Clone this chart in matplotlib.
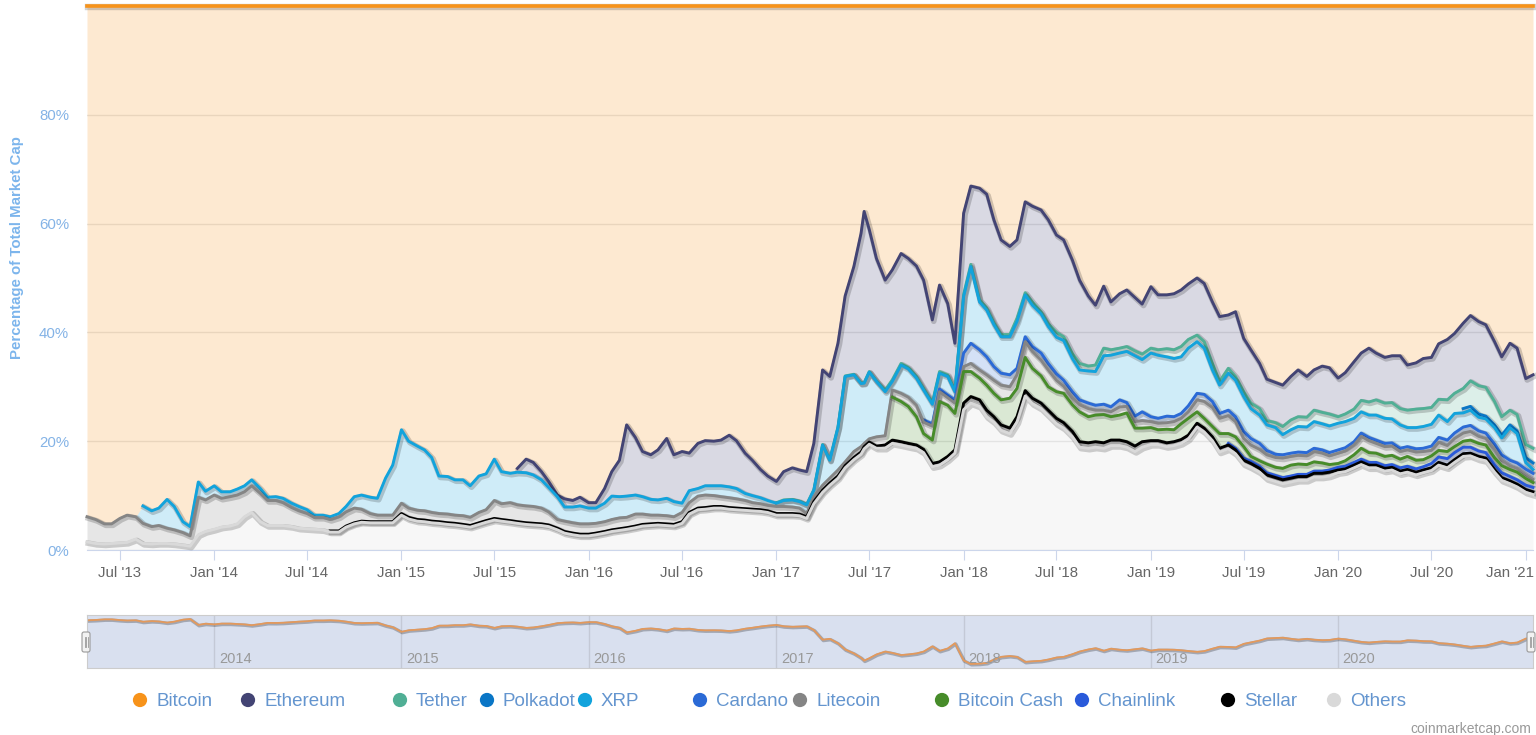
import numpy as np
import pandas as pd
import matplotlib
matplotlib.use("Agg")
import matplotlib.pyplot as plt
import matplotlib.dates as mdates
import matplotlib.patheffects as pe
from matplotlib.patches import FancyBboxPatch
from matplotlib.transforms import ScaledTranslation

plt.rcParams['font.family'] = ['Liberation Sans', 'DejaVu Sans']

# semi-monthly samples (% of total market cap)
dates = pd.DatetimeIndex(["2013-04-28"]).append(
    pd.date_range("2013-05-15", "2021-01-15", freq="SMS"))
dates = dates.insert(dates.get_loc(pd.Timestamp("2017-06-15")) + 1,
                     pd.Timestamp("2017-06-21"))

bitcoin = [
    93.9, 94.4, 95.2, 95.2, 94.2, 93.6, 93.9, 91.9, 92.8, 92.3, 90.7, 92.0, 94.8, 95.7, 87.5, 89.2,
    88.2, 89.3, 89.3, 88.8, 88.2, 87.1, 88.7, 90.3, 90.2, 90.5, 91.4, 92.0, 92.6, 93.6, 93.6, 93.9,
    93.3, 92.0, 90.2, 89.9, 90.3, 90.5, 86.8, 84.4,
    77.9, 80.0, 80.9, 81.6, 83.0, 86.4, 86.5, 87.1, 87.1, 88.2, 86.4, 86.0, 83.3, 85.6, 85.9, 85.0,
    83.3, 83.9, 85.6, 87.4, 89.9, 90.6, 90.9, 90.3,
    91.3, 91.3, 88.7, 85.6, 83.5, 77.0, 79.3, 81.9, 82.5, 81.6, 79.5, 82.5, 81.9, 82.2, 80.4, 79.9,
    80.0, 79.8, 78.9, 79.9, 82.2, 83.5, 85.2, 86.4,
    87.4, 85.6, 84.9, 85.3, 85.6, 80.4, 66.9, 68.1, 62.0, 53.3, 47.9, 41.8, 37.8, 41.2, 46.4, 50.4,
    48.5, 45.5, 46.4, 47.8, 50.4, 57.7, 51.3, 54.7, 62.0,
    38.1, 33.1, 33.5, 34.6, 39.3, 43.0, 44.2, 43.0, 36.0, 36.8, 37.5, 39.3, 42.1, 43.0, 46.7, 50.4,
    53.3, 55.0, 51.5, 54.4, 52.9, 52.2, 53.6, 54.8,
    51.6, 53.1, 53.1, 52.9, 52.2, 51.1, 50.0, 51.0, 54.4, 57.1, 56.8, 56.2, 61.1, 63.2, 65.7, 68.6,
    69.2, 69.7, 68.1, 66.9, 68.1, 66.9, 66.2, 66.5,
    68.4, 67.4, 65.4, 63.8, 62.9, 63.8, 64.6, 64.3, 64.3, 66.0, 65.6, 64.8, 64.6, 62.1, 61.3, 60.2,
    58.3, 56.9, 58.0, 58.6, 61.7, 64.5, 62.0, 62.9,
    67.8, 67.8]

ethereum = [0.0] * 16 + [0.0] * 24 + [0.0] * 15 + [
    0.7, 2.5, 2.3, 1.5, 1.1, 0.3, 1.5, 1.2, 1.6,
    1.0, 1.0, 2.7, 4.5, 6.7, 13.1, 10.6, 8.3, 8.2, 9.2, 11.0, 8.6, 9.5, 6.9, 8.3, 8.3,
    8.2, 8.4, 9.5, 8.8, 7.4, 6.5, 5.2, 4.5,
    3.9, 5.2, 5.8, 5.7, 6.0, 8.5, 13.7, 15.3, 15.4, 14.7, 19.8, 27.5, 31.5, 26.2, 22.5, 20.2,
    20.2, 20.2, 20.0, 20.3, 19.9, 15.2, 15.9, 13.1, 8.6,
    14.9, 14.4, 20.5, 20.9, 18.9, 17.4, 16.2, 14.4, 16.7, 17.6, 18.7, 19.1, 17.9, 17.8, 17.2, 15.3,
    12.9, 11.0, 11.4, 8.8, 10.0, 10.4, 9.8, 9.2,
    11.3, 10.1, 9.9, 10.3, 10.4, 10.2, 10.5, 10.7, 11.3, 11.9, 9.8, 11.9, 9.8, 9.8, 8.3, 7.6,
    7.4, 7.6, 8.0, 8.6, 7.5, 7.4, 8.5, 8.5,
    7.1, 7.6, 8.7, 8.7, 9.9, 8.6, 8.4, 8.6, 9.7, 8.3, 8.5, 9.2, 9.2, 10.2, 11.1, 11.0,
    12.0, 12.0, 11.8, 11.5, 11.0, 11.0, 12.3, 12.2,
    12.0, 13.5]

tether = [0.0] * 16 + [0.0] * 24 + [0.0] * 24 + [0.0] * 24 + [0.1] * 15 + [0.3] * 10 + [
    0.4, 0.4, 0.4, 0.4, 0.4, 0.4, 0.4, 0.6, 0.4, 0.6, 0.4, 0.5, 0.9, 0.7, 0.9, 1.2,
    0.9, 1.2, 1.4, 1.0, 0.9, 0.9, 0.9, 1.0,
    0.9, 1.0, 1.5, 1.6, 1.9, 1.6, 1.2, 1.2, 1.2, 0.7, 0.9, 0.7, 0.9, 1.0, 1.2, 0.8,
    0.9, 1.5, 1.8, 1.8, 1.8, 2.1, 2.1, 2.2,
    1.2, 1.4, 1.7, 2.1, 2.4, 2.8, 2.8, 3.0, 3.0, 3.2, 3.4, 3.3, 3.1, 2.9, 4.0, 3.7,
    3.7, 4.7, 5.2, 5.3, 4.3, 3.4, 2.7, 3.0,
    2.4, 2.7]

polkadot = [0.0] * 177 + [0.8, 0.7, 0.6, 0.5, 0.5, 0.5, 0.5, 0.5, 0.9, 1.2]

xrp = [0.0] * 7 + [
    3.2, 2.9, 3.2, 5.3, 4.3, 2.0, 1.7, 2.8, 1.6,
    1.7, 1.2, 0.9, 1.1, 1.1, 1.1, 0.9, 0.6, 0.7, 0.8, 0.8, 0.8, 0.7, 0.4, 0.4, 0.5,
    0.6, 1.0, 2.1, 2.6, 3.0, 3.1, 6.8, 9.2,
    13.5, 12.3, 11.8, 11.2, 10.1, 6.9, 6.9, 6.5, 6.6, 5.8, 6.7, 6.6, 7.6, 5.9, 5.4, 6.0,
    6.1, 5.8, 5.2, 4.5, 4.2, 2.6, 2.9, 3.3,
    2.9, 2.8, 3.4, 4.3, 3.9, 3.9, 3.5, 3.2, 2.9, 2.8, 3.2, 2.8, 1.7, 2.2, 1.4, 1.7,
    1.8, 2.0, 2.0, 1.9, 1.3, 1.3, 1.1, 0.9,
    0.6, 1.1, 1.3, 1.2, 1.6, 1.2, 7.4, 3.3, 7.8, 15.7, 14.1, 11.6, 11.1, 12.3, 10.2, 8.1,
    1.6, 5.2, 5.2, 5.0, 5.5, 3.6, 2.9, 3.4, 1.5,
    10.4, 14.1, 8.8, 8.6, 7.7, 6.7, 7.0, 8.6, 7.7, 7.6, 7.2, 6.8, 6.7, 7.3, 6.1, 5.5,
    5.9, 6.2, 8.9, 9.5, 8.6, 9.4, 11.1, 9.6,
    11.7, 11.6, 10.9, 10.7, 10.4, 10.6, 9.5, 8.5, 5.8, 5.2, 6.8, 6.7, 6.4, 5.5, 5.2, 4.7,
    4.9, 3.7, 4.3, 4.7, 4.7, 4.9, 4.8, 4.9,
    4.9, 4.8, 4.3, 3.9, 4.1, 4.6, 4.6, 4.4, 4.3, 3.5, 3.9, 4.0, 4.0, 4.1, 3.4, 3.6,
    2.6, 2.8, 2.5, 2.6, 3.0, 3.1, 6.0, 5.4,
    1.2, 0.7]

cardano = [0.0] * 16 + [0.0] * 24 + [0.0] * 24 + [0.0] * 24 + [0.0] * 20 + [
    0.4, 0.4, 0.5, 0.5, 0.6,
    2.5, 3.7, 3.7, 3.3, 2.5, 2.2, 2.2, 1.2, 0.9, 0.9, 1.3, 1.2, 1.2, 1.1, 1.1, 0.9,
    1.0, 0.9, 1.1, 0.9, 1.3, 0.7, 1.0, 1.6,
    0.9, 0.9, 1.2, 0.9, 0.9, 1.1, 1.2, 1.3, 1.1, 0.9, 1.0, 0.9, 1.3, 1.2, 1.1, 0.8,
    0.6, 0.6, 0.6, 0.6, 0.6, 0.6, 0.6, 0.6,
    0.6, 0.6, 0.6, 0.6, 0.6, 0.6, 0.6, 0.6, 0.6, 0.6, 0.6, 0.6, 0.8, 0.9, 1.0, 1.0,
    1.1, 1.1, 1.0, 1.0, 1.0, 1.0, 1.0, 1.0,
    1.0, 1.1]

litecoin = [
    4.6, 4.4, 3.7, 3.6, 4.5, 5.0, 4.1, 3.7, 3.2, 3.3, 2.8, 2.6, 2.3, 1.9, 6.9, 5.8,
    6.3, 5.3, 5.4, 5.3, 4.6, 4.9, 5.2, 4.6, 4.6, 4.2, 3.5, 3.2, 2.8, 2.2, 2.3, 2.1,
    2.6, 2.6, 2.7, 2.2, 1.5, 1.2, 1.2, 1.2,
    1.9, 1.7, 1.7, 1.7, 1.6, 1.5, 1.6, 1.5, 1.6, 1.5, 1.9, 2.0, 3.3, 2.9, 3.3, 3.1,
    3.1, 3.1, 2.9, 2.4, 1.6, 1.9, 1.9, 1.9,
    1.9, 1.8, 1.8, 1.9, 2.0, 1.9, 2.2, 1.9, 1.6, 1.5, 1.5, 1.4, 1.7, 1.8, 2.2, 2.3,
    2.0, 1.8, 1.8, 1.7, 1.5, 1.2, 1.1, 1.0,
    1.3, 1.3, 1.2, 1.1, 0.6, 0.9, 0.9, 0.9, 1.1, 0.7, 1.1, 1.0, 0.6, 0.6, 1.7, 1.7,
    1.3, 1.5, 1.7, 2.1, 2.1, 2.6, 1.8, 1.4, 1.9,
    0.9, 1.5, 1.5, 1.9, 2.4, 2.7, 2.1, 2.5, 2.9, 3.1, 2.9, 3.1, 2.1, 1.3, 1.3, 1.3,
    1.5, 0.9, 0.8, 0.9, 1.5, 1.2, 1.2, 1.4,
    1.1, 1.2, 1.2, 1.5, 1.0, 1.2, 2.2, 3.1, 3.5, 2.8, 3.3, 2.8, 1.5, 2.1, 2.1, 1.7,
    1.8, 1.9, 1.6, 1.6, 1.6, 1.9, 1.8, 1.6,
    1.9, 1.8, 1.8, 2.2, 2.2, 1.8, 1.8, 1.7, 1.4, 1.2, 1.5, 1.5, 1.0, 1.5, 1.1, 1.5,
    1.5, 1.6, 1.3, 1.2, 1.5, 1.0, 0.7, 0.7,
    0.7, 0.6]

bitcoin_cash = [0.0] * 16 + [0.0] * 24 + [0.0] * 24 + [0.0] * 24 + [0.0] * 16 + [
    7.9, 7.4, 6.8, 5.2, 2.9, 4.3, 11.1, 9.4, 6.7,
    5.8, 4.6, 4.0, 4.6, 4.3, 4.6, 5.5, 5.2, 6.1, 5.5, 5.0, 4.3, 4.9, 5.4, 4.9, 5.5,
    4.8, 4.9, 5.2, 4.3, 4.6, 5.3, 3.3, 2.5,
    2.4, 2.0, 2.5, 2.2, 2.9, 3.1, 2.1, 1.8, 1.9, 2.7, 1.8, 2.1, 2.1, 0.9, 1.0, 1.6,
    1.5, 1.7, 2.0, 1.9, 1.8, 1.7, 1.5, 1.0,
    0.7, 1.0, 1.4, 2.0, 1.8, 1.7, 1.7, 1.7, 1.6, 1.8, 1.6, 1.3, 1.4, 1.2, 1.3, 1.1,
    1.1, 1.3, 1.4, 1.4, 1.3, 1.3, 1.3, 1.4,
    1.2, 0.9]

chainlink = [0.0] * 16 + [0.0] * 24 + [0.0] * 24 + [0.0] * 24 + [0.0] * 25 + [0.0] * 24 + [
    0.0] * 10 + [0.3, 0.3] + [0.4] * 12 + [0.5] * 8 + [0.6] * 4 + [
    0.8, 1.0, 1.2, 1.3, 1.2, 1.1, 1.0, 1.0, 0.9, 0.9, 0.8, 0.8,
    0.8, 0.8]

stellar = [0.0] * 16 + [0.0] * 15 + [0.2] * 9 + [0.3] * 24 + [0.3] * 24 + [0.3] * 5 + [
    0.4] * 10 + [0.6] * 10 + [1.2] * 4 + [1.0] * 20 + [0.7] * 24 + [0.5] * 24 + [0.5, 0.5]

others = [
    1.5, 1.2, 1.1, 1.2, 1.3, 1.4, 2.0, 1.2, 1.1, 1.2, 1.2, 1.1, 0.9, 0.7, 2.8, 3.4,
    3.8, 4.2, 4.4, 4.8, 6.1, 6.9, 5.2, 4.5, 4.5, 4.5, 4.3, 4.0, 3.9, 3.8, 3.7, 3.3,
    3.3, 4.2, 4.8, 5.1, 5.0, 5.0, 5.0, 5.0,
    6.4, 5.7, 5.3, 5.2, 5.0, 4.9, 4.7, 4.6, 4.4, 4.2, 4.7, 5.1, 5.5, 5.3, 5.1, 4.9,
    4.7, 4.6, 4.5, 4.3, 3.7, 3.1, 2.8, 2.6,
    2.6, 2.8, 3.1, 3.4, 3.6, 3.8, 4.1, 4.4, 4.5, 4.6, 4.5, 4.4, 4.9, 6.6, 7.4, 7.5,
    7.7, 7.7, 7.5, 7.4, 7.3, 7.2, 7.1, 6.9,
    6.4, 6.4, 6.4, 6.3, 5.8, 8.5, 10.6, 11.9, 13.2, 15.1, 16.6, 17.6, 18.6, 19.5, 18.7, 18.7,
    19.6, 19.3, 19.0, 18.7, 17.9, 15.3, 15.6, 16.6, 17.8,
    25.8, 27.0, 26.4, 24.5, 23.5, 22.0, 21.4, 23.5, 28.3, 26.9, 26.0, 24.7, 23.2, 22.4, 20.8, 18.9,
    18.7, 18.9, 18.7, 19.2, 19.2, 18.9, 18.1, 18.9,
    19.4, 19.4, 19.0, 19.2, 19.6, 20.4, 22.6, 21.7, 20.1, 18.0, 18.6, 17.7, 15.8, 15.2, 14.3, 13.1,
    12.6, 12.2, 12.5, 12.8, 12.8, 13.4, 13.4, 13.6,
    14.2, 14.4, 15.1, 15.7, 15.1, 15.1, 14.5, 14.7, 14.0, 14.3, 13.8, 14.2, 14.6, 15.6, 15.1, 16.1,
    17.2, 17.3, 16.7, 16.4, 14.3, 12.8, 12.2, 11.6,
    10.5, 10.2]

names = ["Bitcoin", "Ethereum", "Tether", "Polkadot", "XRP", "Cardano",
         "Litecoin", "Bitcoin Cash", "Chainlink", "Stellar", "Others"]
series = [bitcoin, ethereum, tether, polkadot, xrp, cardano,
          litecoin, bitcoin_cash, chainlink, stellar, others]
colors = ["#f7931a", "#434474", "#50af95", "#0a76c6", "#12a3dc", "#2b6ad6",
          "#858585", "#478c2a", "#2a5ada", "#000000", "#d9d9d9"]

for n, s in zip(names, series):
    assert len(s) == len(dates), (n, len(s), len(dates))

# percent stacking, Others at the bottom
raw = np.array(series[::-1], dtype=float)
shares = 100 * raw / raw.sum(axis=0)
tops = np.cumsum(shares, axis=0)[::-1]
shares = shares[::-1]
lows = tops - shares

W, H = 1536, 735
fig = plt.figure(figsize=(W / 100, H / 100), dpi=100)
ax = fig.add_axes([87 / W, 1 - 550 / H, 1446 / W, 544 / H])

for j, col in enumerate(colors):
    ax.fill_between(dates, lows[j], tops[j], color=col, alpha=0.2, lw=0, zorder=1)
for j, col in enumerate(colors):
    y = np.where(shares[j] > 0, tops[j], np.nan)
    lw = 2.6 if j == 0 else 2.1
    ax.plot(dates, y, color=col, lw=lw, zorder=3 + j * 0.1, clip_on=False,
            solid_joinstyle='round',
            path_effects=[pe.SimpleLineShadow(offset=(1, -1), shadow_color='black',
                                              alpha=0.18, linewidth=lw + 2),
                          pe.Normal()])

ax.set_xlim(dates[0], dates[-1])
ax.set_ylim(0, 100)
ax.set_yticks([0, 20, 40, 60, 80])
ax.set_yticklabels(['0%', '20%', '40%', '60%', '80%'])
ax.grid(axis='y', color='#e6e6e6', lw=1)
ax.set_axisbelow(True)
for side in ['top', 'right', 'left']:
    ax.spines[side].set_visible(False)
ax.spines['bottom'].set_color('#ccd6eb')
ax.xaxis.set_major_locator(mdates.MonthLocator(bymonth=[1, 7]))
ax.xaxis.set_major_formatter(mdates.DateFormatter("%b '%y"))
ax.tick_params(axis='x', length=7.2, color='#ccd6eb', labelcolor='#666666',
               labelsize=10.8, pad=4)
ax.tick_params(axis='y', length=0, labelcolor='#84b3e6', labelsize=10.8, pad=13)

# keep the last date label inside the chart, as Highcharts does
fig.canvas.draw()
last = ax.get_xticklabels()[-1]
last.set_horizontalalignment('right')
last.set_transform(last.get_transform() + ScaledTranslation(0.08, 0, fig.dpi_scale_trans))

# navigator
nav = fig.add_axes([87 / W, 1 - 668 / H, 1446 / W, 53 / H])
nav.set_facecolor('#d9e0ef')
btc_share = shares[0]
nav.plot(dates, btc_share, color='#e3995c', lw=1.3,
         path_effects=[pe.SimpleLineShadow(offset=(0.6, -0.6), alpha=0.25, linewidth=2.5),
                       pe.Normal()])
nav.set_xlim(dates[0], dates[-1])
nav.set_ylim(btc_share.min() - 5.6, btc_share.max() + 5.6)
for yr in range(2014, 2021):
    t = pd.Timestamp(f"{yr}-01-01")
    nav.axvline(t, color='#c4c9d6', lw=1, zorder=0)
    nav.text(t + pd.Timedelta(days=9), 0.17, str(yr), transform=nav.get_xaxis_transform(),
             ha='left', va='center', color='#999999', fontsize=10.5)
nav.set_xticks([])
nav.set_yticks([])
for sp in nav.spines.values():
    sp.set_color('#cccccc')

# overlay in pixel coordinates for legend, handles and labels
ov = fig.add_axes([0, 0, 1, 1], facecolor='none')
ov.set_xlim(0, W)
ov.set_ylim(H, 0)
ov.axis('off')

for hx in (86, 1531):
    ov.add_patch(FancyBboxPatch((hx - 4, 632), 8, 20, boxstyle="round,pad=0,rounding_size=2",
                                fc='#f2f2f2', ec='#999999', lw=0.8))
    for dx in (-1.5, 0, 1.5):
        ov.plot([hx + dx, hx + dx], [637, 647], color='#999999', lw=0.6)

legend_x = [140, 248, 400, 487, 585, 700, 800, 942, 1082, 1228, 1334]
for lx, name, col in zip(legend_x, names, colors):
    ov.scatter([lx], [700], s=105, color=col, edgecolors='none')
    ov.text(lx + 16, 701, name, ha='left', va='center', color='#6495cf', fontsize=13.5)

ov.text(17, 248, 'Percentage of Total Market Cap', rotation=90, ha='center', va='center',
        color='#7cb5ec', fontsize=10.8, fontweight='bold')
ov.text(1531, 729, 'coinmarketcap.com', ha='right', va='center', color='#999999',
        fontsize=10)

fig.savefig('out.png', dpi=100, facecolor='white')
